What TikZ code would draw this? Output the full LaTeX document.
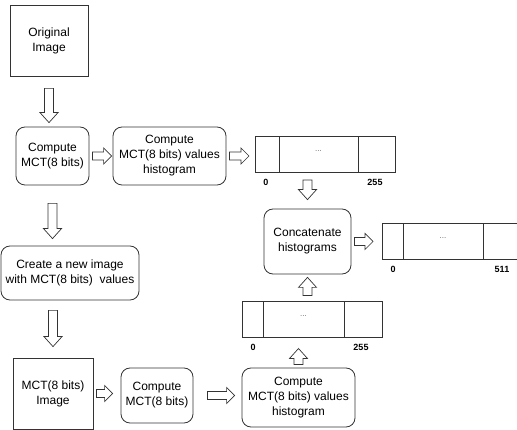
\documentclass[tikz,border=0pt]{standalone}
\usepackage{fontspec}
\setmainfont{Liberation Sans}
\usepackage{tikz}
\usetikzlibrary{positioning, calc}

% hollow block arrows between two points
\newcommand{\blkdown}[2]{%
  \draw[blk] let \p1=(#1), \p2=(#2) in
    (\x1-4.5pt,\y1) -- (\x1+4.5pt,\y1) -- (\x1+4.5pt,\y2+10pt) -- (\x1+9pt,\y2+10pt)
    -- (\x1,\y2) -- (\x1-9pt,\y2+10pt) -- (\x1-4.5pt,\y2+10pt) -- cycle;}
\newcommand{\blkup}[2]{%
  \draw[blk] let \p1=(#1), \p2=(#2) in
    (\x1-4.5pt,\y1) -- (\x1+4.5pt,\y1) -- (\x1+4.5pt,\y2-10pt) -- (\x1+9pt,\y2-10pt)
    -- (\x1,\y2) -- (\x1-9pt,\y2-10pt) -- (\x1-4.5pt,\y2-10pt) -- cycle;}
\newcommand{\blkright}[2]{%
  \draw[blk] let \p1=(#1), \p2=(#2) in
    (\x1,\y1+4pt) -- (\x2-8pt,\y1+4pt) -- (\x2-8pt,\y1+8pt) -- (\x2,\y1)
    -- (\x2-8pt,\y1-8pt) -- (\x2-8pt,\y1-4pt) -- (\x1,\y1-4pt) -- cycle;}

\begin{document}
\begin{tikzpicture}[
    x=1pt, y=-1pt,
    font=\fontsize{12}{15}\selectfont,
    box/.style={draw=black!80, line width=0.8pt, align=center, inner sep=2pt},
    rbox/.style={box, rounded corners=9pt},
    cell/.style={draw=black!80, line width=0.8pt, minimum height=36pt, inner sep=0pt, outer sep=0pt},
    dots/.style={font=\fontsize{8}{8}\selectfont, text=black!60, inner sep=0pt},
    num/.style={font=\fontsize{9}{9}\selectfont\bfseries, anchor=north, inner sep=0pt},
    blk/.style={draw=black!80, line width=0.7pt, fill=white, line join=miter},
]

\useasboundingbox (0,0) rectangle (517,430);
\clip (0,0) rectangle (517,430);

% First image
\node[box, minimum width=78pt, minimum height=71pt] (orig) at (49,40.5) {Original\\Image};
\node[rbox, minimum width=73pt, minimum height=58pt] (cmp1) at (52.5,156) {Compute\\MCT(8 bits)};
\node[rbox, minimum width=113pt, minimum height=58pt] (hist1) at (169.5,156) {Compute\\MCT(8 bits) values\\histogram};

% Histogram 0..255 (top)
\node[cell, minimum width=24pt] (bar1a) at (267,154) {};
\node[cell, minimum width=79pt, right=0pt of bar1a] (bar1b) {};
\node[cell, minimum width=37pt, right=0pt of bar1b] (bar1c) {};
\node[dots] (dots1) at ([yshift=3pt]bar1b.center) {...};
\node[num] (lo1) at ([xshift=11pt, yshift=-7pt]bar1a.south west) {0};
\node[num] (hi1) at ([xshift=17pt, yshift=-7pt]bar1c.south west) {255};

% Second image
\node[rbox, minimum width=138pt, minimum height=54pt] (newimg) at (70,273) {Create a new image\\with MCT(8 bits)~ values};
\node[box, minimum width=80pt, minimum height=71pt] (mctimg) at (53,393.5) {MCT(8 bits)\\Image};
\node[rbox, minimum width=72pt, minimum height=55pt] (cmp2) at (157,395.5) {Compute\\MCT(8 bits)};
\node[rbox, minimum width=113pt, minimum height=59pt] (hist2) at (298.5,397.5) {Compute\\MCT(8 bits) values\\histogram};

% Histogram 0..255 (bottom)
\node[cell, minimum width=21pt] (bar3a) at (252.5,319.5) {};
\node[cell, minimum width=81pt, right=0pt of bar3a] (bar3b) {};
\node[cell, minimum width=38pt, right=0pt of bar3b] (bar3c) {};
\node[dots] (dots3) at ([yshift=3pt]bar3b.center) {...};
\node[num] (lo3) at ([xshift=11pt, yshift=-7pt]bar3a.south west) {0};
\node[num] (hi3) at ([xshift=17pt, yshift=-7pt]bar3c.south west) {255};

% Concatenation
\node[rbox, minimum width=87pt, minimum height=65pt] (concat) at (307.5,241.5) {Concatenate\\histograms};

% Histogram 0..511
\node[cell, minimum width=21pt] (bar2a) at (392.5,241) {};
\node[cell, minimum width=80pt, right=0pt of bar2a] (bar2b) {};
\node[cell, minimum width=77pt, right=0pt of bar2b] (bar2c) {};
\node[dots] (dots2) at ([yshift=3pt]bar2b.center) {...};
\node[num] (lo2) at ([xshift=11pt, yshift=-7pt]bar2a.south west) {0};
\node[num] (hi2) at ([xshift=19pt, yshift=-7pt]bar2c.south west) {511};

% Block arrows
\blkdown{[yshift=-12pt]orig.south}{[yshift=4pt]cmp1.north}
\blkright{[xshift=3pt]cmp1.east}{[xshift=-1pt]hist1.west}
\blkright{[xshift=3pt]hist1.east}{[xshift=-6pt]bar1a.west}
\blkdown{$(concat.north |- bar1b.south)+(0,8)$}{[yshift=9pt]concat.north}
\blkright{[xshift=3pt]concat.east}{[xshift=-9pt]bar2a.west}
\blkup{$(concat.south |- bar3b.north)+(0,-6)$}{[yshift=-3pt]concat.south}
\blkup{[yshift=3pt]hist2.north}{$(hist2.north |- bar3b.south)+(0,11)$}
\blkdown{[yshift=-18pt]cmp1.south}{[yshift=7pt]newimg.north}
\blkdown{$(mctimg.north |- newimg.south)+(0,10)$}{[yshift=11pt]mctimg.north}
\blkright{[xshift=3pt]mctimg.east}{[xshift=-8pt]cmp2.west}
\blkright{[xshift=14pt]cmp2.east}{[xshift=-7pt]hist2.west}

\end{tikzpicture}
\end{document}
